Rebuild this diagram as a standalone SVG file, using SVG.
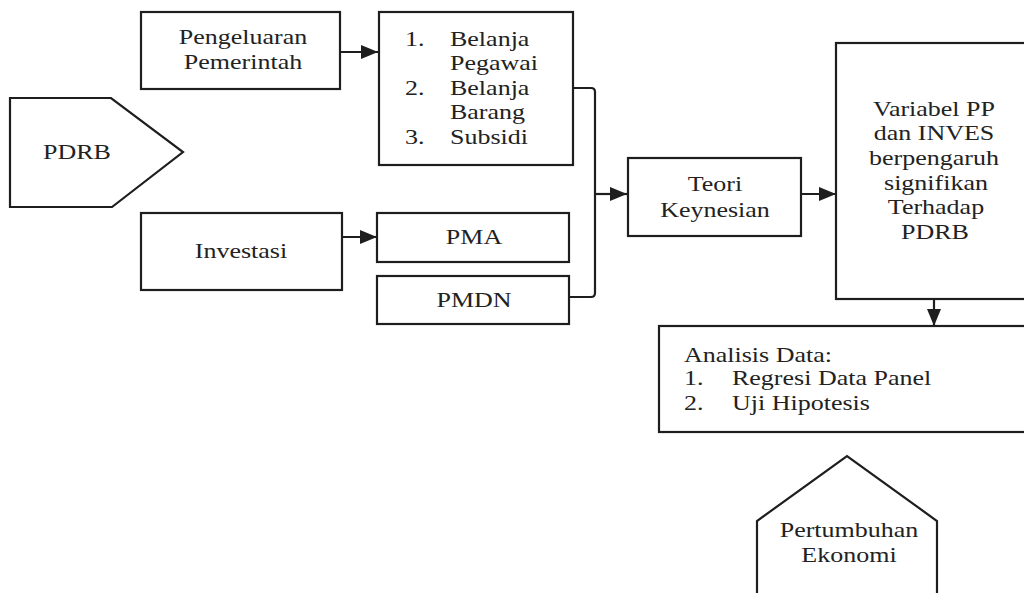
<svg xmlns="http://www.w3.org/2000/svg" width="1024" height="593" viewBox="0 0 1024 593">
<style>
.box{fill:#fff;stroke:#1e1e1e;stroke-width:2.2}
.ln{fill:none;stroke:#1e1e1e;stroke-width:2.2}
text{font-family:"Liberation Serif","Times New Roman",serif;font-size:20px;fill:#222}
.c{text-anchor:middle}
</style>
<defs>
<marker id="ah" markerUnits="userSpaceOnUse" markerWidth="18" markerHeight="14" refX="17" refY="7" orient="auto">
<path d="M0,0 L17,7 L0,14 z" fill="#1e1e1e"/>
</marker>
</defs>
<rect width="1024" height="593" fill="#fff"/>
<g id="connectors">
<line class="ln" x1="340" y1="52" x2="378" y2="52" marker-end="url(#ah)"/>
<line class="ln" x1="342" y1="237" x2="377" y2="237" marker-end="url(#ah)"/>
<path class="ln" d="M573,88 H591 Q595,88 595,92 V293 Q595,297 591,297 H569"/>
<line class="ln" x1="595" y1="194" x2="627" y2="194" marker-end="url(#ah)"/>
<line class="ln" x1="801" y1="194" x2="836" y2="194" marker-end="url(#ah)"/>
<line class="ln" x1="934" y1="299" x2="934" y2="326" marker-end="url(#ah)"/>
</g>
<g id="pdrb">
<polygon class="box" points="10,98 111,98 183,152 112,207 10,207"/>
<text class="c" transform="matrix(1.3,0,0,1,77,0)" y="159">PDRB</text>
</g>
<g id="pengeluaran">
<rect class="box" x="141" y="12" width="199" height="77"/>
<text class="c" transform="matrix(1.3,0,0,1,243,0)" y="44">Pengeluaran</text>
<text class="c" transform="matrix(1.3,0,0,1,243,0)" y="69">Pemerintah</text>
</g>
<g id="belanja">
<rect class="box" x="379" y="12" width="194" height="153"/>
<text transform="matrix(1.3,0,0,1,405,0)" y="46">1.</text>
<text transform="matrix(1.3,0,0,1,450,0)" y="46">Belanja</text>
<text transform="matrix(1.3,0,0,1,450,0)" y="70">Pegawai</text>
<text transform="matrix(1.3,0,0,1,405,0)" y="95">2.</text>
<text transform="matrix(1.3,0,0,1,450,0)" y="95">Belanja</text>
<text transform="matrix(1.3,0,0,1,450,0)" y="119">Barang</text>
<text transform="matrix(1.3,0,0,1,405,0)" y="144">3.</text>
<text transform="matrix(1.3,0,0,1,450,0)" y="144">Subsidi</text>
</g>
<g id="investasi">
<rect class="box" x="141" y="213" width="201" height="77"/>
<text class="c" transform="matrix(1.3,0,0,1,241,0)" y="258">Investasi</text>
</g>
<g id="pma">
<rect class="box" x="377" y="213" width="192" height="49"/>
<text class="c" transform="matrix(1.3,0,0,1,474,0)" y="244">PMA</text>
</g>
<g id="pmdn">
<rect class="box" x="377" y="276" width="192" height="48"/>
<text class="c" transform="matrix(1.3,0,0,1,474,0)" y="307">PMDN</text>
</g>
<g id="teori">
<rect class="box" x="628" y="158" width="173" height="78"/>
<text class="c" transform="matrix(1.3,0,0,1,715,0)" y="191">Teori</text>
<text class="c" transform="matrix(1.3,0,0,1,715,0)" y="217">Keynesian</text>
</g>
<g id="variabel">
<rect class="box" x="836" y="43" width="200" height="256"/>
<text class="c" transform="matrix(1.3,0,0,1,934,0)" y="116">Variabel PP</text>
<text class="c" transform="matrix(1.3,0,0,1,934,0)" y="140">dan INVES</text>
<text class="c" transform="matrix(1.3,0,0,1,934,0)" y="165">berpengaruh</text>
<text class="c" transform="matrix(1.3,0,0,1,936,0)" y="190">signifikan</text>
<text class="c" transform="matrix(1.3,0,0,1,936,0)" y="214">Terhadap</text>
<text class="c" transform="matrix(1.3,0,0,1,935,0)" y="239">PDRB</text>
</g>
<g id="analisis">
<rect class="box" x="659" y="326" width="380" height="106"/>
<text transform="matrix(1.3,0,0,1,684,0)" y="362">Analisis Data:</text>
<text transform="matrix(1.3,0,0,1,684,0)" y="385">1.</text>
<text transform="matrix(1.3,0,0,1,732,0)" y="385">Regresi Data Panel</text>
<text transform="matrix(1.3,0,0,1,684,0)" y="410">2.</text>
<text transform="matrix(1.3,0,0,1,732,0)" y="410">Uji Hipotesis</text>
</g>
<g id="pertumbuhan">
<polygon class="box" points="757,600 757,521 847,456 937,521 937,600"/>
<text class="c" transform="matrix(1.3,0,0,1,849,0)" y="537">Pertumbuhan</text>
<text class="c" transform="matrix(1.3,0,0,1,849,0)" y="562">Ekonomi</text>
</g>
</svg>
